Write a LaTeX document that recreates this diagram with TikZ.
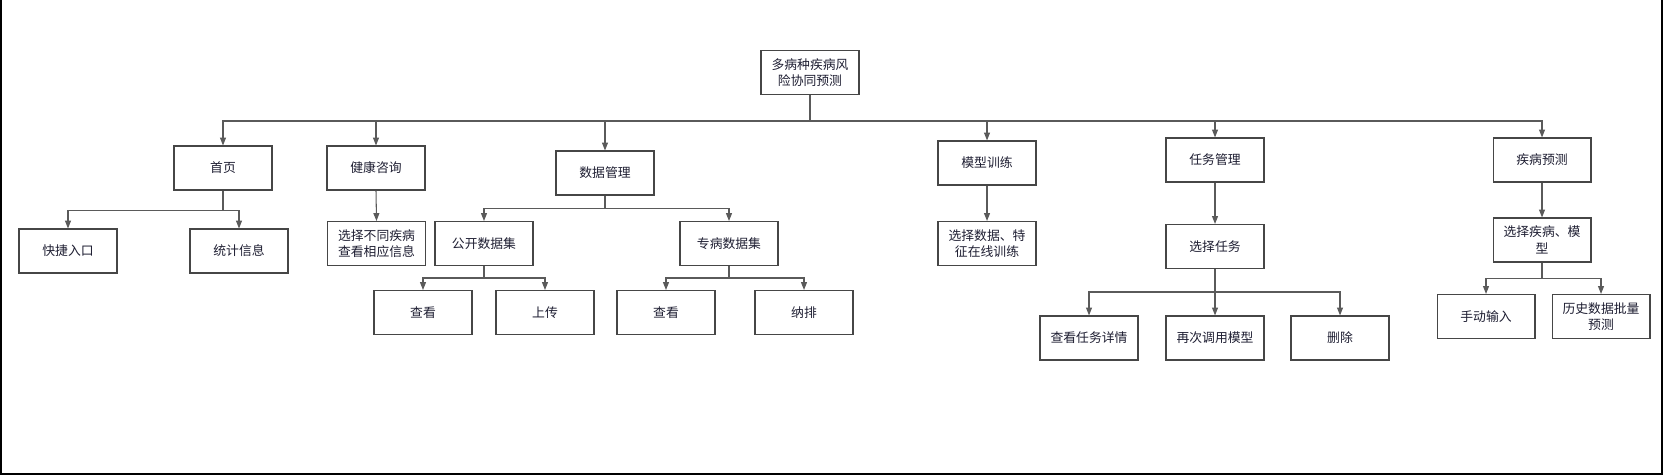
\documentclass[tikz,border=0pt]{standalone}
\usepackage{fontspec}
\usepackage{tikz}
\usetikzlibrary{arrows.meta}
\newfontfamily\cjk{Noto Sans CJK SC}
\definecolor{boxline}{RGB}{70,70,70}
\definecolor{connline}{RGB}{90,90,90}
\definecolor{txt}{RGB}{30,30,50}

\tikzset{
  box/.style={shape=rectangle, draw=boxline, line width=0.6pt, fill=white,
    minimum width=1.96cm, minimum height=0.88cm, inner sep=0pt, align=center,
    text=txt, font=\cjk\fontsize{7.3}{9.5}\selectfont},
  arr/.style={draw=connline, line width=0.6pt, -{Triangle[length=4.5pt,width=3.4pt]}},
  frame/.style={draw=black, line width=1.1pt}
}

\begin{document}
\begin{tikzpicture}[x=0.02cm, y=-0.02cm]
\useasboundingbox (0,0) rectangle (1663,475);
\draw[frame] (1,0) -- (1,474) -- (1662,474) -- (1662,0);

\node[box](root) at (810,72.5) {多病种疾病风\\险协同预测};

\node[box](shouye) at (223,168) {首页};
\node[box](jiankang) at (376,168) {健康咨询};
\node[box](shuju) at (605,173) {数据管理};
\node[box](moxing) at (987,163) {模型训练};
\node[box](renwu) at (1215,160) {任务管理};
\node[box](jibing) at (1542,160) {疾病预测};

\node[box](kuaijie) at (68,251) {快捷入口};
\node[box](tongji) at (239,251) {统计信息};
\node[box](xuanzejb) at (376.5,243.5) {选择不同疾病\\查看相应信息};
\node[box](gongkai) at (484,243.5) {公开数据集};
\node[box](zhuanbing) at (729,243.5) {专病数据集};
\node[box](xuanzesj) at (987,243.5) {选择数据、特\\征在线训练};
\node[box](xuanzerw) at (1215,246.5) {选择任务};
\node[box](xuanzejm) at (1542,240) {选择疾病、模\\型};

\node[box](chakan1) at (423,312.5) {查看};
\node[box](shangchuan) at (545,312.5) {上传};
\node[box](chakan2) at (666,312.5) {查看};
\node[box](napai) at (804,312.5) {纳排};
\node[box](xiangqing) at (1089,338) {查看任务详情};
\node[box](zaici) at (1215,338) {再次调用模型};
\node[box](shanchu) at (1340,338) {删除};
\node[box](shoudong) at (1486,316.5) {手动输入};
\node[box](lishi) at (1601,316.5) {历史数据批量\\预测};

% first level
\draw[arr] (root.south) -- ++(0,26) -| (shouye.north);
\draw[arr] (root.south) -- ++(0,26) -| (jiankang.north);
\draw[arr] (root.south) -- ++(0,26) -| (shuju.north);
\draw[arr] (root.south) -- ++(0,26) -| (moxing.north);
\draw[arr] (root.south) -- ++(0,26) -| (renwu.north);
\draw[arr] (root.south) -- ++(0,26) -| (jibing.north);

% second level
\draw[arr] (shouye.south) -- ++(0,20) -| (kuaijie.north);
\draw[arr] (shouye.south) -- ++(0,20) -| (tongji.north);
\draw[arr] (jiankang.south) -- (xuanzejb.north);
\draw[arr] (shuju.south) -- ++(0,13) -| (gongkai.north);
\draw[arr] (shuju.south) -- ++(0,13) -| (zhuanbing.north);
\draw[arr] (moxing.south) -- (xuanzesj.north);
\draw[arr] (renwu.south) -- (xuanzerw.north);
\draw[arr] (jibing.south) -- (xuanzejm.north);

% third level
\draw[arr] (gongkai.south) -- ++(0,12) -| (chakan1.north);
\draw[arr] (gongkai.south) -- ++(0,12) -| (shangchuan.north);
\draw[arr] (zhuanbing.south) -- ++(0,12) -| (chakan2.north);
\draw[arr] (zhuanbing.south) -- ++(0,12) -| (napai.north);
\draw[arr] (xuanzerw.south) -- ++(0,23) -| (xiangqing.north);
\draw[arr] (xuanzerw.south) -- (zaici.north);
\draw[arr] (xuanzerw.south) -- ++(0,23) -| (shanchu.north);
\draw[arr] (xuanzejm.south) -- ++(0,16) -| (shoudong.north);
\draw[arr] (xuanzejm.south) -- ++(0,16) -| (lishi.north);
\end{tikzpicture}
\end{document}
